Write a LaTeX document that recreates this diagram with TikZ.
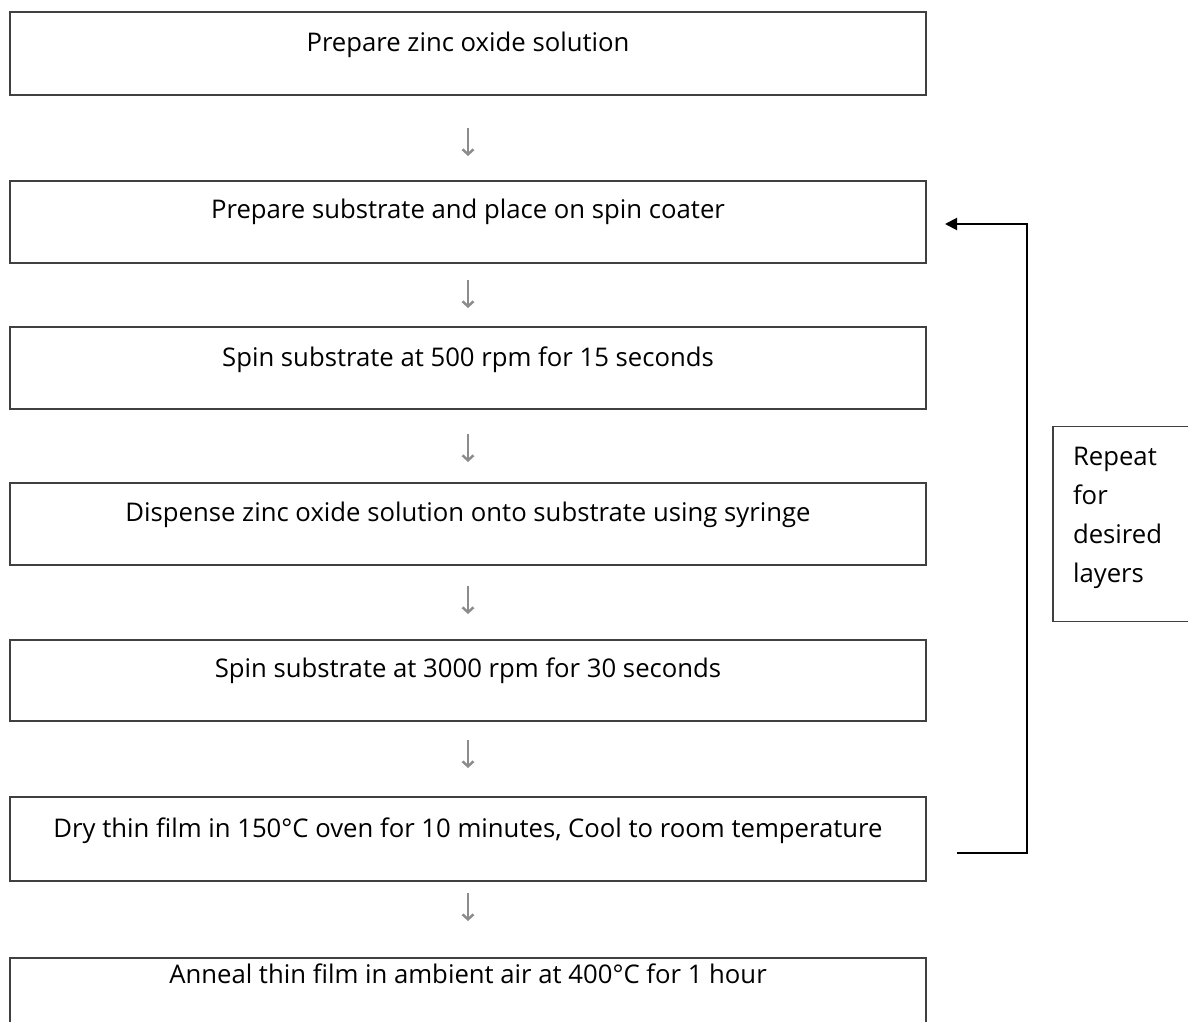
\documentclass[tikz,border=0pt]{standalone}
\usepackage{fontspec}
\setmainfont{Open Sans}
\usetikzlibrary{positioning, arrows.meta}
\tikzset{
 stepbox/.style = {
    rectangle, draw=black!75, line width=1.5pt,
    minimum width=916pt, outer sep=0pt,
    inner xsep=0pt, inner ysep=0pt,
    text height=40pt, text depth=43pt,
    font=\fontsize{25.7}{30}\selectfont},
 line/.style = {
    draw, black!45, line width=2.5pt,
    -{Straight Barb[length=5pt,width=11pt]}},
 loop line/.style = {
    draw, line width=2pt,
    -{Triangle[length=12pt,width=12pt]}},
 note/.style = {
    rectangle, draw=black!75, line width=1.5pt,
    text width=120pt, align=left, outer sep=0pt,
    inner xsep=20pt, inner ysep=0pt,
    text height=39pt, text depth=156pt,
    font=\fontsize{25.7}{39}\selectfont},
}
\begin{document}
\begin{tikzpicture}[x=1pt, y=1pt]
    \clip (0,0) rectangle (1188,-1022);

    % Place nodes
    \node [stepbox, anchor=north west] (prep) at (10,-12) {Prepare zinc oxide solution};
    \node [stepbox, below=86pt of prep, text height=37pt, text depth=45pt] (sub) {Prepare substrate and place on spin coater};
    \node [stepbox, below=64pt of sub, text height=39pt, text depth=43pt] (spinlow) {Spin substrate at 500 rpm for 15 seconds};
    \node [stepbox, below=74pt of spinlow, text height=38pt, text depth=44pt] (disp) {Dispense zinc oxide solution onto substrate using syringe};
    \node [stepbox, below=75pt of disp, text height=37pt, text depth=44pt] (spinhigh) {Spin substrate at 3000 rpm for 30 seconds};
    \node [stepbox, below=76pt of spinhigh, text height=40pt, text depth=44pt] (dry) {Dry thin film in 150°C oven for 10 minutes, Cool to room temperature};
    \node [stepbox, below=77pt of dry, text height=25pt, text depth=58pt] (anneal) {Anneal thin film in ambient air at 400°C for 1 hour};
    \node [note, right=127pt of disp] (repeat) {Repeat\\for\\desired\\layers};

    \draw[line, shorten <=33pt, shorten >=25pt] (prep) -- (sub);
    \draw[line, shorten <=17pt, shorten >=19pt] (sub) -- (spinlow);
    \draw[line, shorten <=25pt, shorten >=21pt] (spinlow) -- (disp);
    \draw[line, shorten <=21pt, shorten >=26pt] (disp) -- (spinhigh);
    \draw[line, shorten <=19pt, shorten >=29pt] (spinhigh) -- (dry);
    \draw[line, shorten <=12pt, shorten >=37pt] (dry) -- (anneal);

    % repeat loop
    \coordinate (loop start) at ([xshift=31pt, yshift=-14pt]dry.east);
    \draw[loop line] (loop start) -- ++(70pt,0) |- ([xshift=19pt, yshift=-2pt]sub.east);
\end{tikzpicture}
\end{document}
